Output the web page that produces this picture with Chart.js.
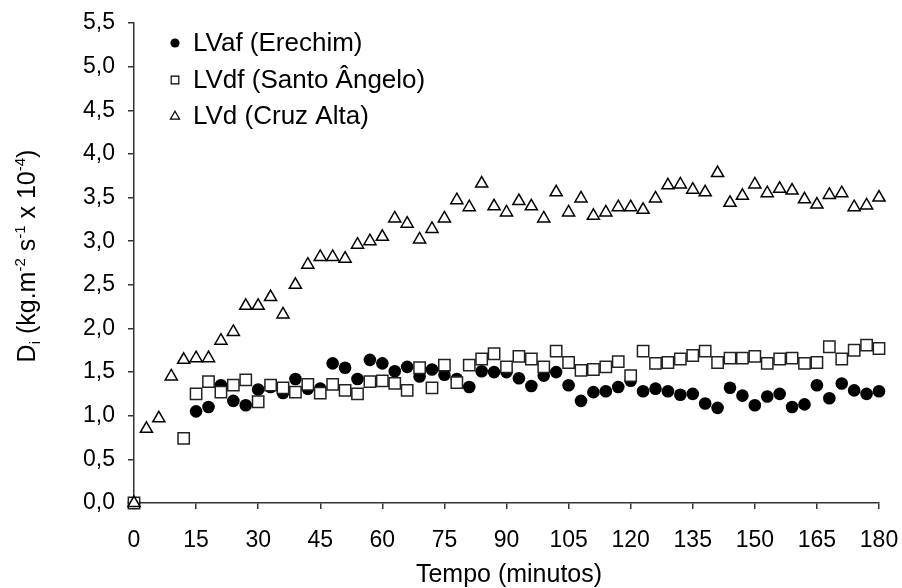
<!DOCTYPE html>
<html>
<head>
<meta charset="utf-8">
<script src="https://cdn.jsdelivr.net/npm/chart.js@4.4.0/dist/chart.umd.min.js"></script>
<style>
  html, body { margin: 0; padding: 0; background: #fff; }
</style>
</head>
<body>
<canvas id="chart" width="902" height="588"></canvas>
<script>
// ------------------------------------------------------------
//  Di ao longo do tempo — três solos (LVaf, LVdf, LVd)
// ------------------------------------------------------------

const FONT = "'Liberation Sans', Arial, Helvetica, sans-serif";

// eixo x (minutos)
const minutes = [0, 3, 6, 9, 12, 15, 18, 21, 24, 27, 30, 33, 36, 39, 42, 45, 48, 51, 54, 57,
                 60, 63, 66, 69, 72, 75, 78, 81, 84, 87, 90, 93, 96, 99, 102, 105, 108, 111, 114, 117,
                 120, 123, 126, 129, 132, 135, 138, 141, 144, 147, 150, 153, 156, 159, 162, 165, 168, 171, 174, 177, 180];

// LVaf (Erechim) — círculos cheios
const lvaf = [0, null, null, null, null, 1.05, 1.10, 1.35, 1.17, 1.12, 1.30, 1.33, 1.26, 1.42, 1.31, 1.31, 1.60, 1.55, 1.42, 1.64,
              1.60, 1.51, 1.56, 1.45, 1.53, 1.47, 1.42, 1.33, 1.51, 1.50, 1.50, 1.43, 1.34, 1.46, 1.50, 1.35, 1.17, 1.27, 1.28, 1.33,
              1.40, 1.28, 1.31, 1.28, 1.24, 1.25, 1.14, 1.09, 1.32, 1.23, 1.12, 1.22, 1.25, 1.10, 1.13, 1.35, 1.20, 1.37, 1.29, 1.25, 1.28];

// LVdf (Santo Ângelo) — quadrados vazios
const lvdf = [0, null, null, null, 0.74, 1.25, 1.39, 1.27, 1.35, 1.41, 1.16, 1.35, 1.32, 1.27, 1.36, 1.26, 1.36, 1.29, 1.25, 1.39,
              1.40, 1.37, 1.29, 1.55, 1.32, 1.58, 1.38, 1.58, 1.65, 1.71, 1.56, 1.68, 1.65, 1.56, 1.74, 1.61, 1.52, 1.53, 1.56, 1.62,
              1.46, 1.74, 1.60, 1.61, 1.65, 1.69, 1.74, 1.61, 1.66, 1.66, 1.68, 1.60, 1.65, 1.66, 1.60, 1.61, 1.79, 1.65, 1.75, 1.81, 1.77];

// LVd (Cruz Alta) — triângulos vazios
const lvd = [0, 0.85, 0.97, 1.45, 1.64, 1.66, 1.66, 1.86, 1.96, 2.26, 2.26, 2.36, 2.16, 2.50, 2.73, 2.82, 2.82, 2.80, 2.96, 3.00,
             3.05, 3.26, 3.20, 3.02, 3.14, 3.26, 3.47, 3.39, 3.66, 3.40, 3.33, 3.46, 3.40, 3.26, 3.56, 3.33, 3.49, 3.29, 3.33, 3.39,
             3.39, 3.36, 3.49, 3.64, 3.65, 3.59, 3.56, 3.78, 3.44, 3.52, 3.65, 3.55, 3.60, 3.58, 3.48, 3.42, 3.53, 3.55, 3.39, 3.41, 3.50];

const seriesNames = ['LVaf (Erechim)', 'LVdf (Santo Ângelo)', 'LVd (Cruz Alta)'];
const xTitle = 'Tempo (minutos)';
const X_MIN = 0, X_MAX = 180, X_STEP = 15;
const Y_MIN = 0, Y_MAX = 5.5, Y_STEP = 0.5;

const AXIS_COLOR = '#333';

function toPoints(arr) {
  return minutes.map((m, i) => ({ x: m, y: arr[i] })).filter(p => p.y !== null);
}

// legenda + títulos desenhados à mão (com sub/sobrescritos)
const decor = {
  id: 'decor',
  afterDraw(chart) {
    const ctx = chart.ctx;
    ctx.save();
    ctx.fillStyle = '#000';
    ctx.strokeStyle = '#000';

    // --- legenda
    const rows = [43, 80, 116];
    const mx = 175, tx = 193;
    ctx.font = `26px ${FONT}`;
    ctx.textAlign = 'left';
    ctx.textBaseline = 'middle';
    rows.forEach((y, i) => {
      ctx.lineWidth = 1.2;
      ctx.beginPath();
      if (i === 0) {
        ctx.arc(mx, y, 4.6, 0, Math.PI * 2);
        ctx.fill();
      } else if (i === 1) {
        ctx.rect(mx - 3.8, y - 3.8, 7.6, 7.6);
        ctx.stroke();
      } else {
        ctx.moveTo(mx, y - 4.8);
        ctx.lineTo(mx + 4.6, y + 3.2);
        ctx.lineTo(mx - 4.6, y + 3.2);
        ctx.closePath();
        ctx.stroke();
      }
      ctx.fillText(seriesNames[i], tx, y + 1);
    });

    // --- título do eixo x
    ctx.textAlign = 'center';
    ctx.textBaseline = 'alphabetic';
    ctx.font = `25px ${FONT}`;
    ctx.fillText(xTitle, 509, 582);

    // --- título do eixo y: D_i (kg.m^-2 s^-1 x 10^-4)
    const big = `25px ${FONT}`, small = `15px ${FONT}`;
    const segs = [
      ['D', 'n'], ['i', 'sub'], [' (kg.m', 'n'], ['-2', 'sup'], [' s', 'n'],
      ['-1', 'sup'], [' x 10', 'n'], ['-4', 'sup'], [')', 'n'],
    ];
    ctx.translate(35, 256);
    ctx.rotate(-Math.PI / 2);
    ctx.textAlign = 'left';
    let total = 0;
    segs.forEach(s => {
      ctx.font = s[1] === 'n' ? big : small;
      total += ctx.measureText(s[0]).width;
    });
    let x = -total / 2;
    segs.forEach(s => {
      ctx.font = s[1] === 'n' ? big : small;
      const dy = s[1] === 'sup' ? -10 : (s[1] === 'sub' ? 5 : 0);
      ctx.fillText(s[0], x, dy);
      x += ctx.measureText(s[0]).width;
    });

    ctx.restore();
  },
};

const ctx = document.getElementById('chart').getContext('2d');

new Chart(ctx, {
  type: 'scatter',
  data: {
    datasets: [
      {
        label: seriesNames[0],
        data: toPoints(lvaf),
        pointStyle: 'circle',
        pointRadius: 6.3,
        backgroundColor: '#000',
        borderColor: '#000',
        borderWidth: 0,
        clip: false,
        order: 3,
      },
      {
        label: seriesNames[1],
        data: toPoints(lvdf),
        pointStyle: 'rect',
        pointRadius: 8,
        backgroundColor: '#fff',
        borderColor: '#222',
        borderWidth: 1.5,
        clip: false,
        order: 2,
      },
      {
        label: seriesNames[2],
        data: toPoints(lvd),
        pointStyle: 'triangle',
        pointRadius: 7,
        backgroundColor: '#fff',
        borderColor: '#000',
        borderWidth: 1.5,
        clip: false,
        order: 1,
      },
    ],
  },
  options: {
    responsive: false,
    animation: false,
    layout: { padding: { left: 0, right: 23, top: 23, bottom: 0 } },
    plugins: {
      legend: { display: false },
      tooltip: { enabled: false },
    },
    scales: {
      x: {
        type: 'linear',
        min: X_MIN,
        max: X_MAX,
        afterFit: s => { s.height = 85; s.paddingLeft = 0; s.paddingRight = 0; },
        ticks: {
          stepSize: X_STEP,
          color: '#000',
          padding: 18,
          maxRotation: 0,
          font: { size: 23, family: FONT },
        },
        grid: {
          drawOnChartArea: false,
          drawTicks: true,
          tickLength: 6,
          color: AXIS_COLOR,
          lineWidth: 1.5,
        },
        border: { display: true, color: AXIS_COLOR, width: 1.5 },
      },
      y: {
        type: 'linear',
        min: Y_MIN,
        max: Y_MAX,
        afterFit: s => { s.width = 134; s.paddingTop = 0; s.paddingBottom = 0; },
        ticks: {
          stepSize: Y_STEP,
          color: '#000',
          padding: 13,
          font: { size: 23, family: FONT },
          callback: v => v.toFixed(1).replace('.', ','),
        },
        grid: {
          drawOnChartArea: false,
          drawTicks: true,
          tickLength: 6,
          color: AXIS_COLOR,
          lineWidth: 1.5,
        },
        border: { display: true, color: AXIS_COLOR, width: 1.5 },
      },
    },
  },
  plugins: [decor],
});
</script>
</body>
</html>
